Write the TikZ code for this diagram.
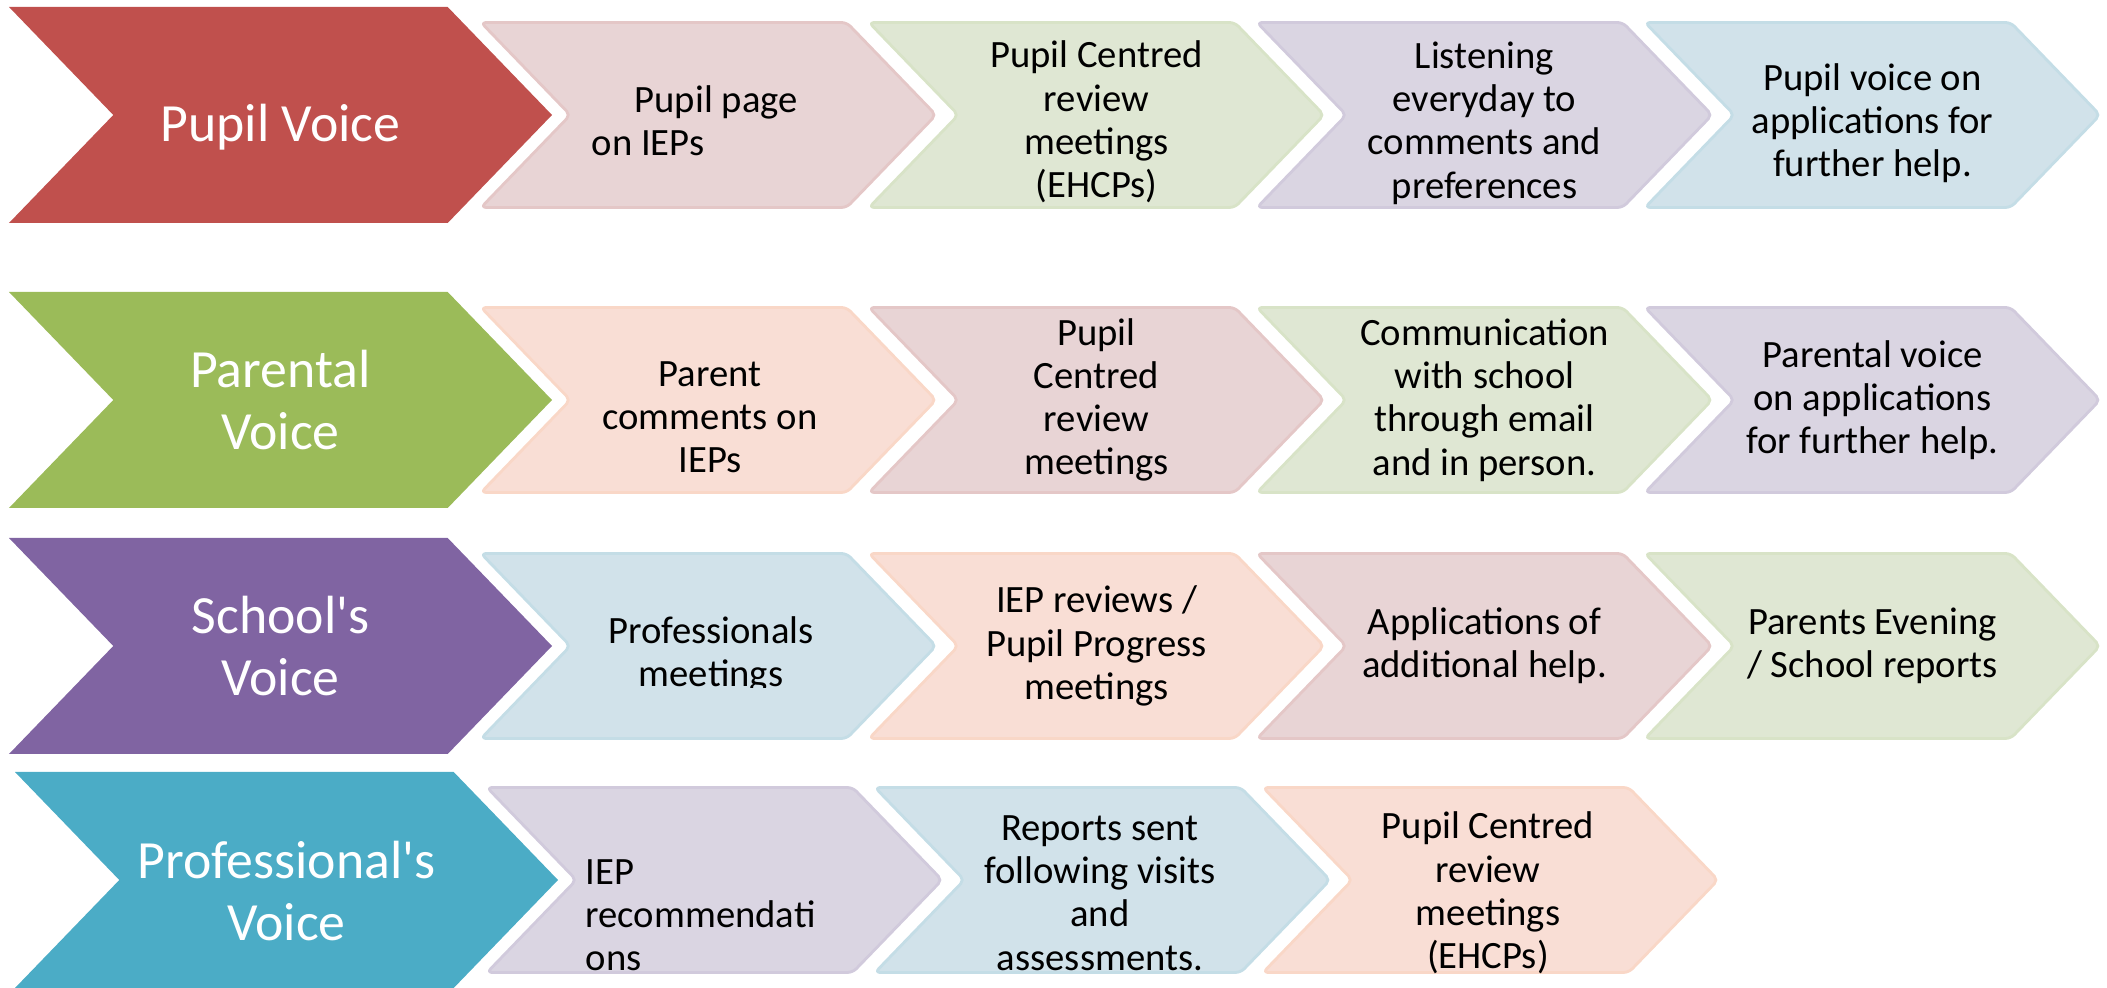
\documentclass[tikz,border=0pt]{standalone}
\usepackage{fontspec}
\setmainfont{Carlito}[Ligatures=TeXOff]
\usetikzlibrary{shapes.symbols,positioning}

\definecolor{pupilred}{HTML}{C0504D}
\definecolor{parentgreen}{HTML}{9BBB59}
\definecolor{schoolpurple}{HTML}{8064A2}
\definecolor{proteal}{HTML}{4BACC6}
\definecolor{peachline}{HTML}{F79646}
\definecolor{pinkfill}{HTML}{E8D4D5}
\definecolor{greenfill}{HTML}{DFE7D3}
\definecolor{lilacfill}{HTML}{DAD5E2}
\definecolor{bluefill}{HTML}{D1E2EA}
\definecolor{peachfill}{HTML}{F9DED5}

\begin{document}
\begin{tikzpicture}[node distance=3.88cm,
    voice/.style={signal, signal from=west, signal to=east, signal pointer angle=92,
      minimum width=5.43cm, minimum height=2.16cm, inner sep=0pt, text=white,
      font=\fontsize{15.3}{17.9}\selectfont, align=center},
    bigtxt/.style={text=white, font=\fontsize{15.3}{17.9}\selectfont, align=center, inner sep=0pt},
    chev/.style={signal, signal from=west, signal to=east, signal pointer angle=92,
      minimum width=4.55cm, minimum height=1.85cm, inner sep=0pt, rounded corners=1.5pt,
      line width=0.8pt, font=\fontsize{11}{12.3}\selectfont, align=center},
    txt/.style={font=\fontsize{11}{12.3}\selectfont, align=center, inner sep=0pt},
    pinkchev/.style={chev, fill=pinkfill, draw=pinkfill!90!pupilred},
    greenchev/.style={chev, fill=greenfill, draw=greenfill!90!parentgreen},
    lilacchev/.style={chev, fill=lilacfill, draw=lilacfill!90!schoolpurple},
    bluechev/.style={chev, fill=bluefill, draw=bluefill!90!proteal},
    peachchev/.style={chev, fill=peachfill, draw=peachfill!90!peachline}]
    \useasboundingbox (0,0) rectangle (21.07,-9.88);

    % pupil voice
    \node[voice, fill=pupilred] (pv) at (2.805,-1.15) {};
    \node[pinkchev] (pv1) at (7.085,-1.15) {};
    \node[greenchev] (pv2) [right of=pv1] {};
    \node[lilacchev] (pv3) [right of=pv2] {};
    \node[bluechev] (pv4) [right of=pv3] {};
    \node[bigtxt] (pvt) at ([yshift=-0.12cm]pv.center) {Pupil Voice};
    \node[txt, align=left, anchor=west] (pv1t) at (5.91,-1.21) {\hspace*{0.43cm}Pupil page\\on IEPs};
    \node[txt] (pv2t) at ([yshift=-0.07cm]pv2.center) {Pupil Centred\\review\\meetings\\(EHCPs)};
    \node[txt] (pv3t) at ([yshift=-0.08cm]pv3.center) {Listening\\everyday to\\comments and\\preferences};
    \node[txt] (pv4t) at ([yshift=-0.08cm]pv4.center) {Pupil voice on\\applications for\\further help.};

    % parental voice
    \node[voice, fill=parentgreen] (prv) at (2.805,-4.00) {Parental\\Voice};
    \node[peachchev] (prv1) at (7.085,-4.00) {};
    \node[pinkchev] (prv2) [right of=prv1] {Pupil\\Centred\\review\\meetings};
    \node[greenchev] (prv3) [right of=prv2] {Communication\\with school\\through email\\and in person.};
    \node[lilacchev] (prv4) [right of=prv3] {Parental voice\\on applications\\for further help.};
    \node[txt] (prv1t) at (7.10,-4.17) {Parent\\comments on\\IEPs};

    % school's voice
    \node[voice, fill=schoolpurple] (sv) at (2.805,-6.46) {School's\\Voice};
    \node[bluechev] (sv1) at (7.085,-6.46) {};
    \node[peachchev] (sv2) [right of=sv1] {IEP reviews /\\Pupil Progress\\meetings};
    \node[pinkchev] (sv3) [right of=sv2] {Applications of\\additional help.};
    \node[greenchev] (sv4) [right of=sv3] {Parents Evening\\/ School reports};
    \begin{scope}
      \clip (5.0,-5.6) rectangle (9.3,-6.88);
      \node[txt] (sv1t) at (7.11,-6.55) {Professionals\\meetings};
    \end{scope}

    % professional's voice
    \node[voice, fill=proteal] (pfv) at (2.865,-8.80) {};
    \node[lilacchev] (pfv1) at (7.145,-8.80) {};
    \node[bluechev] (pfv2) [right of=pfv1] {};
    \node[peachchev] (pfv3) [right of=pfv2] {};
    \node[bigtxt] (pfvt) at ([yshift=-0.11cm]pfv.center) {Professional's\\Voice};
    \node[txt, align=left, anchor=west] (pfv1t) at (5.85,-9.15) {IEP\\recommendati\\ons};
    \node[txt] (pfv2t) at (11.0,-8.93) {Reports sent\\following visits\\and\\assessments.};
    \node[txt] (pfv3t) at (14.88,-8.93) {Pupil Centred\\review\\meetings\\(EHCPs)};

\end{tikzpicture}
\end{document}
